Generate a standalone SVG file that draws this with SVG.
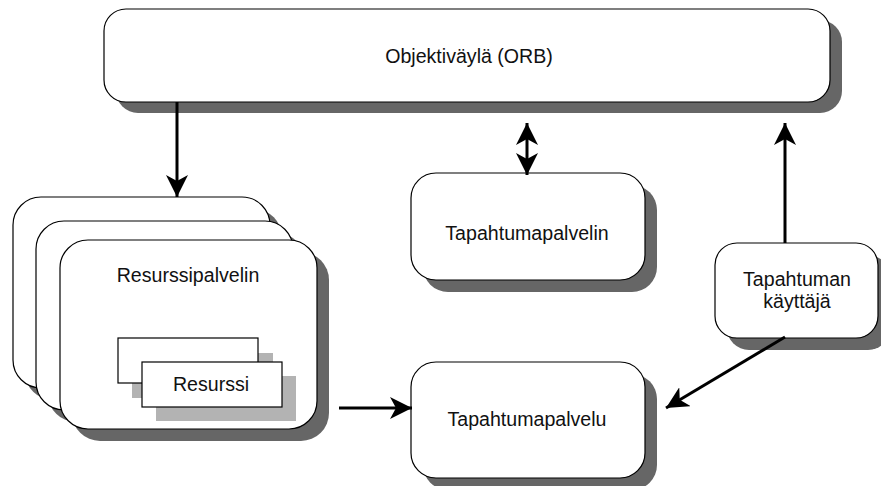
<svg xmlns="http://www.w3.org/2000/svg" width="881" height="486" viewBox="0 0 881 486">
  <defs>
    <marker id="head" viewBox="0 0 22 22" refX="22" refY="11" markerWidth="22" markerHeight="22" markerUnits="userSpaceOnUse" orient="auto-start-reverse">
      <path d="M0,0 L22,11 L0,22 L6,11 Z" fill="#000"/>
    </marker>
  </defs>
  <style>
    .box { fill: #fff; stroke: #000; stroke-width: 1.2; }
    .shadow { fill: #666; }
    .lshadow { fill: #b3b3b3; }
    .label { font-family: "Liberation Sans", Arial, sans-serif; font-size: 19.6px; fill: #111; text-anchor: middle; }
    .link { stroke: #000; stroke-width: 3; fill: none; }
  </style>
  <rect width="881" height="486" fill="#fff"/>

  <g id="orb">
    <rect class="shadow" x="116" y="20" width="726" height="93" rx="22"/>
    <rect class="box" x="104" y="9" width="726" height="93" rx="22"/>
    <text class="label" x="469" y="63">Objektiväylä (ORB)</text>
  </g>

  <g id="resurssipalvelin">
    <rect class="shadow" x="25" y="209" width="257" height="191" rx="28"/>
    <rect class="box" x="13" y="197" width="257" height="191" rx="28"/>
    <rect class="shadow" x="48" y="233" width="257" height="189" rx="28"/>
    <rect class="box" x="36" y="221" width="257" height="189" rx="28"/>
    <rect class="shadow" x="72" y="252" width="257" height="189" rx="28"/>
    <rect class="box" x="60" y="240" width="257" height="189" rx="28"/>
    <text class="label" x="188" y="282">Resurssipalvelin</text>
  </g>

  <g id="resurssi">
    <rect class="lshadow" x="132" y="353" width="141" height="45"/>
    <rect class="box" x="118" y="338" width="140" height="45"/>
    <rect class="lshadow" x="156" y="376" width="140" height="45"/>
    <rect class="box" x="142" y="362" width="140" height="45"/>
    <text class="label" x="211" y="391">Resurssi</text>
  </g>

  <g id="tapahtumapalvelin">
    <rect class="shadow" x="423" y="185" width="234" height="107" rx="25"/>
    <rect class="box" x="411" y="173" width="234" height="107" rx="25"/>
    <text class="label" x="527" y="240">Tapahtumapalvelin</text>
  </g>

  <g id="tapahtuman-kayttaja">
    <rect class="shadow" x="727" y="255" width="163" height="95" rx="22"/>
    <rect class="box" x="715" y="243" width="163" height="95" rx="22"/>
    <text class="label" x="797" y="286">Tapahtuman</text>
    <text class="label" x="797" y="308">käyttäjä</text>
  </g>

  <g id="tapahtumapalvelu">
    <rect class="shadow" x="423" y="374" width="234" height="116" rx="25"/>
    <rect class="box" x="411" y="362" width="234" height="116" rx="25"/>
    <text class="label" x="527" y="426">Tapahtumapalvelu</text>
  </g>

  <g id="connectors">
    <line class="link" x1="177" y1="102" x2="177" y2="197" marker-end="url(#head)"/>
    <line class="link" x1="527" y1="123" x2="527" y2="175" marker-start="url(#head)" marker-end="url(#head)"/>
    <line class="link" x1="785" y1="243" x2="785" y2="123" marker-end="url(#head)"/>
    <line class="link" x1="785" y1="337" x2="666" y2="408" marker-end="url(#head)"/>
    <line class="link" x1="339" y1="408" x2="412" y2="408" marker-end="url(#head)"/>
  </g>
</svg>
